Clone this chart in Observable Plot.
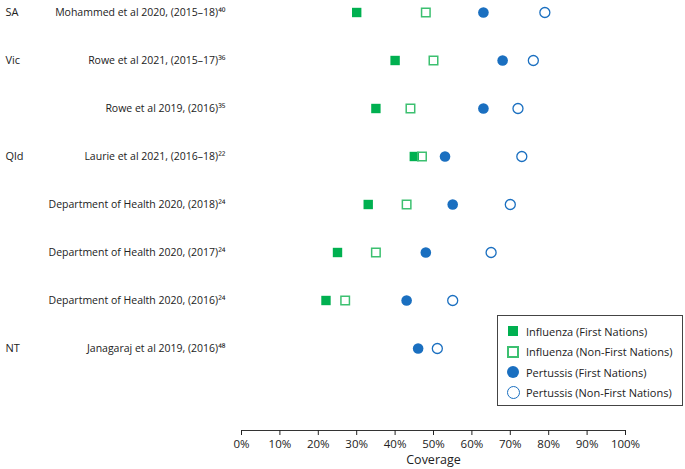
<!DOCTYPE html>
<html><head><meta charset="utf-8">
<script src="https://cdn.jsdelivr.net/npm/d3@7"></script>
<script src="https://cdn.jsdelivr.net/npm/@observablehq/plot@0.6"></script>
<style>
body{margin:0;background:#fff;font-family:"Open Sans",sans-serif;}
#wrap{position:relative;width:685px;height:469px;}
#legend{position:absolute;left:497px;top:315px;width:186px;height:91px;border:1px solid #444;box-sizing:border-box;background:#fff;font-size:11px;color:#222;padding:5px 0 0 10px;}
#legend div{display:flex;align-items:center;height:20.5px;}
#legend span.s{display:inline-block;width:10px;height:10px;margin-right:8px;box-sizing:border-box;}
</style></head><body><div id="wrap"><div id="legend">
<div><span class="s" style="background:#00b050"></span>Influenza (First Nations)</div>
<div><span class="s" style="border:2px solid #3cc070;width:12px;height:12px;margin-right:7px;margin-left:-1px"></span>Influenza (Non-First Nations)</div>
<div><span class="s" style="background:#1a6fc0;border-radius:50%;width:12px;height:12px;margin-left:-1px;margin-right:7px"></span>Pertussis (First Nations)</div>
<div><span class="s" style="border:1.5px solid #1a6fc0;border-radius:50%;width:13px;height:13px;margin-left:-1px;margin-right:6px"></span>Pertussis (Non-First Nations)</div>
</div></div>
<script>
const studies = ["Mohammed et al 2020, (2015–18)⁴⁰","Rowe et al 2021, (2015–17)³⁶","Rowe et al 2019, (2016)³⁵","Laurie et al 2021, (2016–18)²²","Department of Health 2020, (2018)²⁴","Department of Health 2020, (2017)²⁴","Department of Health 2020, (2016)²⁴","Janagaraj et al 2019, (2016)⁴⁸"];
const states = ["SA","Vic","","Qld","","","","NT"];
const fluFN = [30,40,35,45,33,25,22,null];
const fluNon = [48,50,44,47,43,35,27,null];
const pertFN = [63,68,63,53,55,48,43,46];
const pertNon = [79,76,72,73,70,65,55,51];
const xTicks = [0,10,20,30,40,50,60,70,80,90,100];
const rows = studies.map((s,i)=>({study:s,state:states[i],fluFN:fluFN[i],fluNon:fluNon[i],pertFN:pertFN[i],pertNon:pertNon[i]}));
const chart = Plot.plot({
  width:685,height:469,marginLeft:241,marginRight:60,marginTop:0,marginBottom:39,
  style:{fontFamily:"Open Sans, sans-serif",fontSize:"11px",color:"#222"},
  x:{domain:[0,100]},
  y:{type:"point",domain:studies,range:[10,350],padding:0},
  marks:[
    Plot.axisY({tickSize:0,tickPadding:16,fontSize:10.5,label:null}),
    Plot.frame({anchor:"bottom",stroke:"#333"}),
    Plot.axisX({ticks:xTicks,tickFormat:d=>d+"%",tickSize:5,fontSize:11.5,label:null}),
    Plot.text(["Coverage"],{frameAnchor:"bottom",dy:33,fontSize:12.5}),
    Plot.text(rows.filter(d=>d.state),{x:0,y:"study",text:"state",textAnchor:"start",dx:-236,fontSize:11}),
    Plot.dot(rows.filter(d=>d.fluFN!=null),{x:"fluFN",y:"study",symbol:"square",r:5.3,fill:"#00b050"}),
    Plot.dot(rows.filter(d=>d.fluNon!=null),{x:"fluNon",y:"study",symbol:"square",r:4.8,stroke:"#3cc070",strokeWidth:1.5,fill:"none"}),
    Plot.dot(rows,{x:"pertFN",y:"study",r:5.3,fill:"#1a6fc0"}),
    Plot.dot(rows,{x:"pertNon",y:"study",r:5,stroke:"#1a6fc0",strokeWidth:1.3,fill:"none"})
  ]
});
document.getElementById("wrap").prepend(chart);
chart.style.position="absolute";chart.style.left="0";chart.style.top="0";
</script></body></html>
